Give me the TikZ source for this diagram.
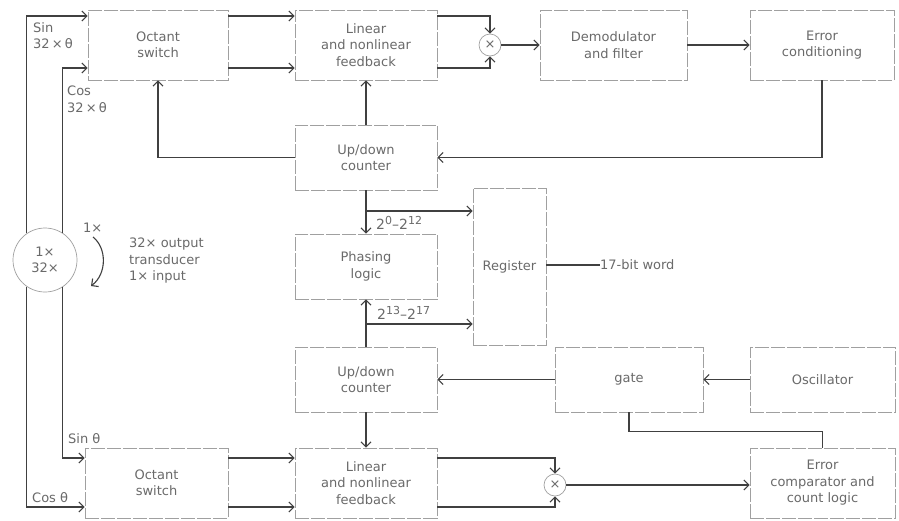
\documentclass[tikz,border=0pt]{standalone}
\usepackage{fontspec}
\setmainfont{DejaVu Sans}
\usetikzlibrary{arrows.meta,calc}
\definecolor{txt}{HTML}{6A6A6A}
\definecolor{bx}{HTML}{A0A0A0}
\definecolor{ln}{HTML}{404040}
\newcommand{\upsc}[1]{\raisebox{5pt}{\fontsize{11}{11}\selectfont #1}}
\begin{document}
\begin{tikzpicture}[x=1pt,y=-1pt,
 blk/.style={rectangle, draw=bx, dash pattern=on 14pt off 2pt, line width=0.7pt, text=txt, font=\fontsize{13}{16.5}\selectfont, align=center, inner sep=0pt},
 mul/.style={circle, draw=bx, line width=0.7pt, minimum size=22pt, inner sep=0pt, text=txt, font=\fontsize{13}{13}\selectfont},
 conn/.style={draw=ln, line width=1.1pt, -{Straight Barb[length=5pt,width=10pt]}},
 wire/.style={draw=ln, line width=1.1pt},
 lbl/.style={text=txt, font=\fontsize{13}{16.5}\selectfont, align=left, inner sep=0pt}]
\useasboundingbox (0,0) rectangle (899,520);
\fill[white] (0,0) rectangle (899,520);

% blocks
\node[blk, minimum width=140pt, minimum height=70pt] (octT) at (158,45) {Octant\\switch};
\node[blk, minimum width=142pt, minimum height=70pt] (linT) at (366,45) {Linear\\and nonlinear\\feedback};
\node[mul] (mulT) at (490,45) {×};
\node[blk, minimum width=147pt, minimum height=70pt] (dem) at (613.5,45) {Demodulator\\and filter};
\node[blk, minimum width=144pt, minimum height=70pt] (errc) at (822,45) {Error\\conditioning};
\node[blk, minimum width=142pt, minimum height=65pt] (cntT) at (366,157.5) {Up/down\\counter};
\node[blk, minimum width=142pt, minimum height=65pt] (phase) at (366,266.5) {Phasing\\logic};
\node[blk, minimum width=73pt, minimum height=157pt] (reg) at (509.5,266.5) {Register};
\node[lbl, anchor=west] (word) at (600,265) {17-bit word};
\node[blk, minimum width=142pt, minimum height=65pt] (cntB) at (366,379.5) {Up/down\\counter};
\node[blk, minimum width=148pt, minimum height=65pt] (gate) at (629,379.5) {gate};
\node[blk, minimum width=145pt, minimum height=65pt] (osc) at (822.5,379.5) {Oscillator};
\node[blk, minimum width=143pt, minimum height=70pt] (octB) at (156.5,483) {Octant\\switch};
\node[blk, minimum width=142pt, minimum height=70pt] (linB) at (366,483) {Linear\\and nonlinear\\feedback};
\node[mul] (mulB) at (555,485) {×};
\node[blk, minimum width=145pt, minimum height=70pt] (errcmp) at (822.5,483) {Error\\comparator and\\count logic};
\node[circle, draw=bx, line width=0.7pt, minimum size=64pt, inner sep=0pt, text=txt, align=center, font=\fontsize{13}{16}\selectfont] (trans) at (45,260) {1×\\32×};

% labels
\node[lbl, anchor=north west] (sinlab) at (33,22) {Sin\\32\,×\,θ};
\node[lbl, anchor=north west] (coslab) at (67,86) {Cos\\32\,×\,θ};
\node[lbl, anchor=north west] (onex) at (83,223) {1×};
\node[lbl, anchor=north west] (trlab) at (129,238) {32× output\\transducer\\1× input};
\node[lbl, anchor=base west] (sinb) at (68,443) {Sin θ};
\node[lbl, anchor=base west] (cosb) at (32,502) {Cos θ};
\node[lbl, anchor=base west, font=\fontsize{14}{16}\selectfont] (plo) at (376,229) {2\upsc{0}–2\upsc{12}};
\node[lbl, anchor=base west, font=\fontsize{14}{16}\selectfont] (phi) at (377,319) {2\upsc{13}–2\upsc{17}};

% levels
\path (0,16) coordinate (yA) (0,68) coordinate (yB) (0,458) coordinate (yC) (0,507) coordinate (yD);

% transducer feeds
\draw[conn] (trans.124) |- (octT.west |- yA);
\draw[conn] (trans.58) |- (octT.west |- yB);
\draw[conn] (trans.236) |- (octB.west |- yD);
\draw[conn] (trans.302) |- (octB.west |- yC);
\coordinate (c1) at (93,237);
\coordinate (c2) at (91,286);
\draw[conn] (c1) .. controls (107,248) and (107,274) .. (c2);

% top chain
\draw[conn] (octT.east |- yA) -- (linT.west |- yA);
\draw[conn] (octT.east |- yB) -- (linT.west |- yB);
\draw[conn] (linT.east |- yA) -| (mulT.north);
\draw[conn] (linT.east |- yB) -| (mulT.south);
\draw[conn] (mulT) -- (dem);
\draw[conn] (dem) -- (errc);
\draw[conn] (errc.south) |- (cntT.east);
\draw[conn] (cntT.west) -| (octT.south);
\draw[conn] (cntT) -- (linT);

% middle
\draw[conn] (cntT) -- (phase);
\coordinate (b1) at (366,211);
\draw[conn] (b1) -- (b1 -| reg.west);
\draw[conn] (cntB) -- (phase);
\coordinate (b2) at (366,324);
\draw[conn] (b2) -- (b2 -| reg.west);
\draw[wire] (reg.east |- word.west) -- (word.west);
\draw[conn] (osc) -- (gate);
\draw[conn] (gate) -- (cntB);
\draw[wire] (gate.south) |- ($(gate.south)!.55!(errcmp.north)$) -| (errcmp.north);

% bottom chain
\draw[conn] (cntB) -- (linB);
\draw[conn] (octB.east |- yC) -- (linB.west |- yC);
\draw[conn] (octB.east |- yD) -- (linB.west |- yD);
\draw[conn] (linB.east |- yC) -| (mulB.north);
\draw[conn] (linB.east |- yD) -| (mulB.south);
\draw[conn] (mulB.east) -- (mulB.east -| errcmp.west);
\end{tikzpicture}
\end{document}
